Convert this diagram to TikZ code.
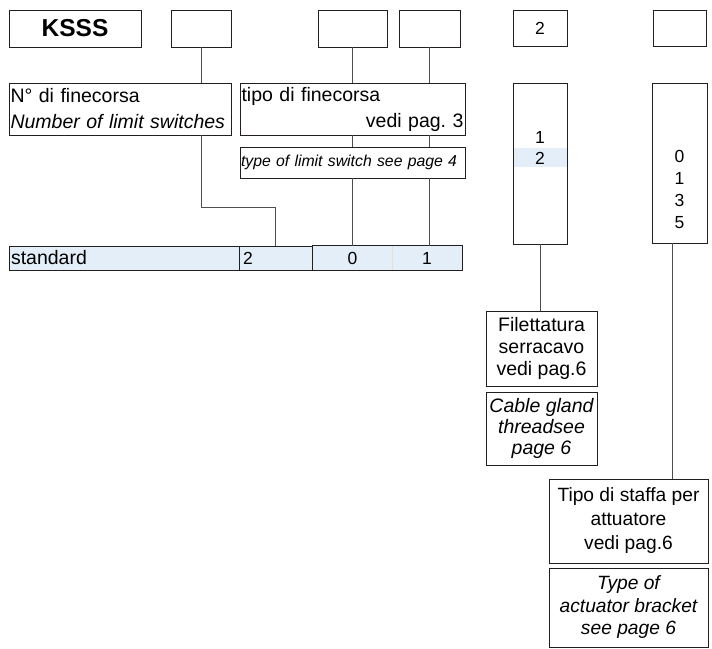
\documentclass[tikz,border=0pt]{standalone}
\usepackage{fontspec}
\setmainfont{Liberation Sans}
\definecolor{boxcol}{HTML}{231F20}
\definecolor{linecol}{HTML}{4D4D4D}
\definecolor{barfill}{HTML}{E3EEF8}
\newcommand\fTxt{\fontsize{19.5}{26}\selectfont}
\newcommand\fNum{\fontsize{17.5}{22}\selectfont}
\newcommand\fSmall{\fontsize{15.8}{20}\selectfont}
\frenchspacing
\begin{document}
\begin{tikzpicture}[x=1pt,y=-1pt,
  box/.style={draw=boxcol,line width=0.8pt,inner sep=0pt,minimum width=#1},
  box/.default=50pt,
  conn/.style={draw=linecol,line width=0.8pt},
  cell/.style={fill=barfill,inner sep=0pt,minimum height=24pt}]
\useasboundingbox (0,0) rectangle (712,648);
% top code boxes
\node[box=132pt,minimum height=37pt,font=\fontsize{24.5}{26}\selectfont\bfseries] (ksss) at (75,28.5) {KSSS\hspace{9pt}};
\node[box=60pt,minimum height=37pt] (b2) at (201,28.5) {};
\node[box=69pt,minimum height=37pt] (b3) at (352.5,28.5) {};
\node[box=61pt,minimum height=37pt] (b4) at (429.5,28.5) {};
\node[box=54pt,minimum height=36pt,font=\fNum] (b5) at (540,28) {2};
\node[box=53pt,minimum height=36pt] (b6) at (679.5,28) {};
% description boxes
\node[box=222pt,minimum height=52pt,font=\fTxt,align=left,text width=219pt,inner xsep=1.5pt] (nbox) at (120,109)
  {N° di finecorsa\\\textit{Number of limit switches}};
\node[box=225pt,minimum height=52pt,font=\fTxt,align=left,text width=222pt,inner xsep=1.5pt] (tipo) at (352.5,109)
  {tipo di finecorsa\\\mbox{}\hskip0pt plus 1fill vedi pag.\ 3};
\node[box=225pt,minimum height=31pt,font=\fSmall\itshape,align=left,text width=223pt,inner xsep=1pt] (typebox) at (352.5,162.5)
  {\mbox{type of limit switch see page 4}};
% bar
\node[cell,draw=boxcol,line width=0.8pt,minimum width=230pt,font=\fTxt,align=left,text width=226pt] (c1) at (124,258) {standard};
\node[cell,draw=boxcol,line width=0.8pt,minimum width=74pt,font=\fNum,align=left,text width=66pt] (c2) at (276,258) {2};
\node[cell,minimum width=79pt,font=\fNum] (c3a) at (352.5,258) {0};
\node[cell,minimum width=70pt,font=\fNum] (c3b) at (427,258) {1};
\draw[draw=boxcol,line width=0.8pt] (c3a.north west) rectangle (c3b.south east);
\draw[draw=black!12,line width=0.6pt] (c3a.north east) -- (c3a.south east);
% right column boxes
\fill[barfill] (513,148) rectangle (567,167);
\node[box=54pt,minimum height=161pt] (r1box) at (540,163.5) {};
\node[font=\fNum,inner sep=0pt] (r1a) at (540,137) {1};
\node[font=\fNum,inner sep=0pt] (r1b) at (540,158) {2};
\node[box=55pt,minimum height=160pt] (r2box) at (679.5,163) {};
\node[font=\fNum,align=center,inner sep=0pt] (r2n) at (679.5,189) {0\\1\\3\\5};
\node[box=111pt,minimum height=75pt,font=\fontsize{19.5}{21.7}\selectfont,align=center] (fil) at (541.5,348.5)
  {Filettatura\\serracavo\\vedi pag.6};
\node[box=111pt,minimum height=73pt,font=\fontsize{19.5}{21}\selectfont\itshape,align=center] (cable) at (541.5,428.5)
  {Cable gland\\threadsee\\page 6};
\node[box=159pt,minimum height=84pt,font=\fontsize{19.2}{24}\selectfont,align=center] (staffa) at (628.5,521)
  {Tipo di staffa per\\attuatore\\vedi pag.6};
\node[box=159pt,minimum height=79pt,font=\fontsize{19.2}{22.5}\selectfont\itshape,align=center] (actu) at (628.5,607.5)
  {Type of\\actuator bracket\\see page 6};
% connectors
\coordinate (elbow) at (275,207);
\draw[conn] (b2.south) -- (nbox.north -| b2.south);
\draw[conn] (nbox.south -| b2.south) |- (elbow) -- (elbow |- c2.north);
\draw[conn] (b3.south) -- (tipo.north -| b3.south);
\draw[conn] (tipo.south -| b3.south) -- (typebox.north -| b3.south);
\draw[conn] (typebox.south -| b3.south) -- (c3a.north -| b3.south);
\draw[conn] (b4.south) -- (tipo.north -| b4.south);
\draw[conn] (tipo.south -| b4.south) -- (typebox.north -| b4.south);
\draw[conn] (typebox.south -| b4.south) -- (c3b.north -| b4.south);
\draw[conn] (r1box.south) -- (fil.north -| r1box.south);
\draw[conn] ([xshift=-7.5pt]r2box.south) -- ([xshift=-7.5pt]r2box.south |- staffa.north);
\end{tikzpicture}
\end{document}
